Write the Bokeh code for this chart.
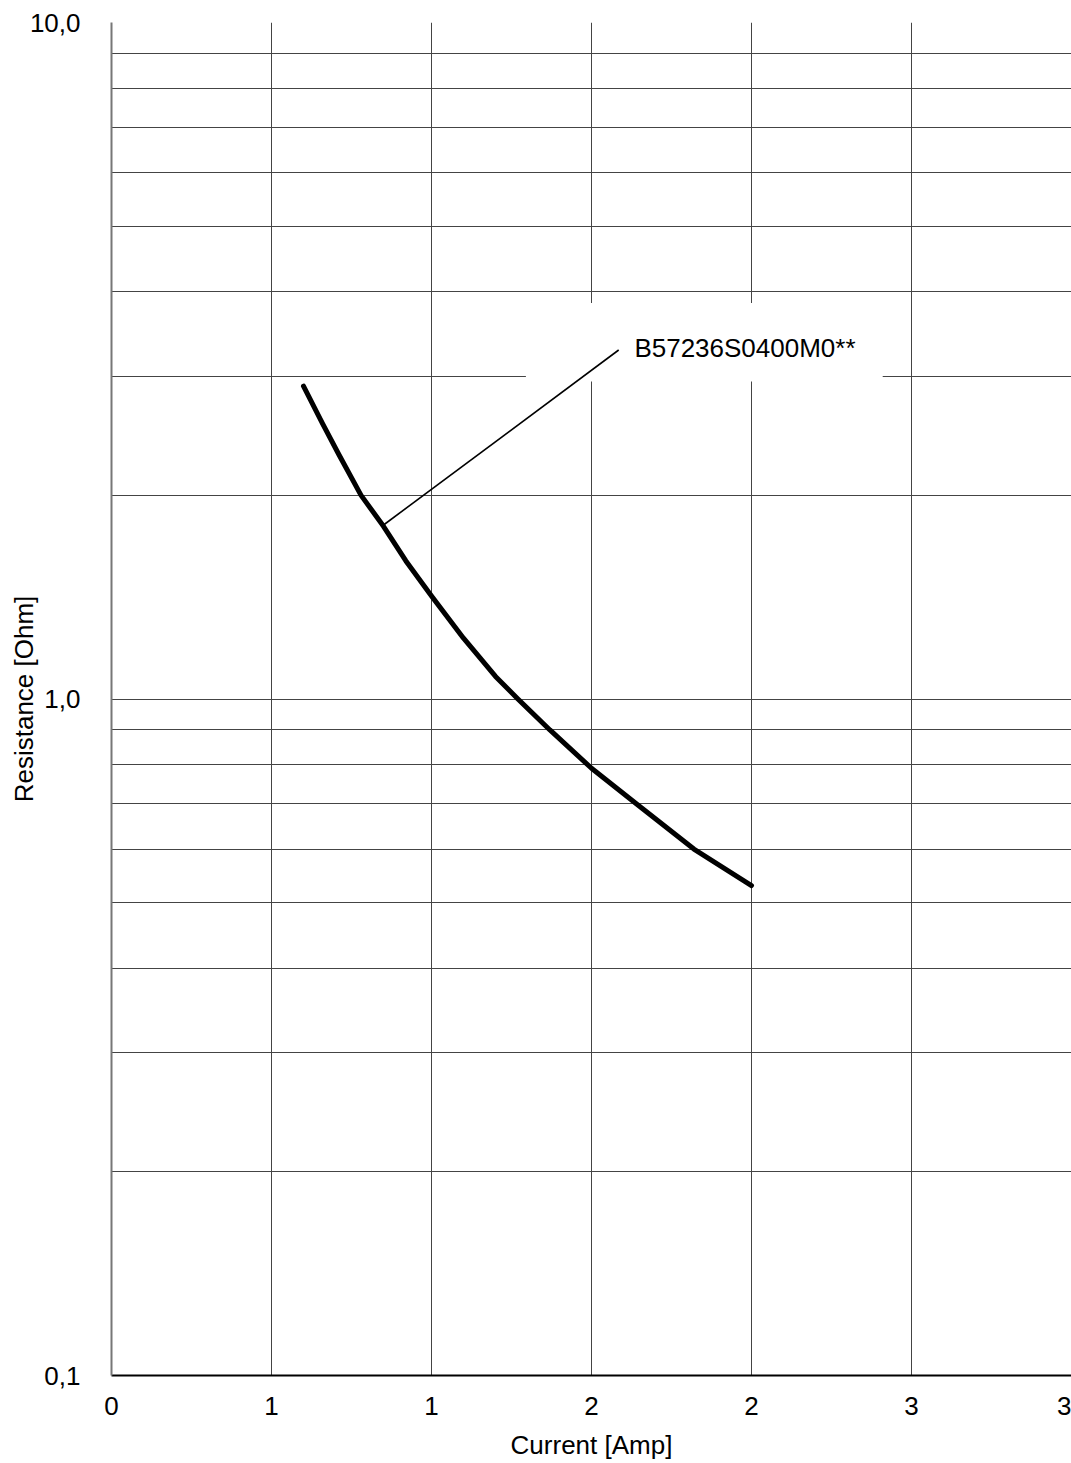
from bokeh.plotting import figure
from bokeh.models import FixedTicker, Range1d
from bokeh.core.properties import value
from bokeh.embed import file_html
from bokeh.resources import INLINE

# data
current = [0.60, 0.66, 0.71, 0.78, 0.85, 0.92, 1.00, 1.10, 1.20, 1.27,
           1.37, 1.50, 1.64, 1.82, 2.00]
resistance = [2.90, 2.55, 2.30, 2.00, 1.80, 1.60, 1.42, 1.23, 1.08, 1.00,
              0.90, 0.79, 0.70, 0.60, 0.53]

x_ticks = [0, 0.5, 1.0, 1.5, 2.0, 2.5, 3.0]
x_tick_labels = ["0", "1", "1", "2", "2", "3", "3"]
y_ticks = [0.1, 1.0, 10.0]
y_tick_labels = ["0,1", "1,0", "10,0"]
y_grid = [0.1, 0.2, 0.3, 0.4, 0.5, 0.6, 0.7, 0.8, 0.9,
          1, 2, 3, 4, 5, 6, 7, 8, 9, 10]

x_title = "Current [Amp]"
y_title = "Resistance [Ohm]"
label_text = ["B57236S0400M0**"]
label_x = [1.634]
label_y = [3.30]
leader_x = [0.848, 1.585]
leader_y = [1.805, 3.28]
box = dict(left=1.295, right=2.41, bottom=2.946, top=3.85)

FONT = "Liberation Sans"

p = figure(width=1071, height=1463, y_axis_type="log",
           x_range=Range1d(0, 3.0), y_range=Range1d(0.1, 10.0),
           output_backend="svg", toolbar_location=None,
           min_border_left=111, min_border_right=0,
           min_border_top=22, min_border_bottom=88)
p.outline_line_color = None
p.background_fill_color = "white"

p.xaxis.ticker = FixedTicker(ticks=x_ticks, minor_ticks=[])
p.xaxis.major_label_overrides = {t: l for t, l in zip(x_ticks, x_tick_labels)}
p.yaxis.ticker = FixedTicker(ticks=y_ticks, minor_ticks=[])
p.yaxis.major_label_overrides = {t: l for t, l in zip(y_ticks, y_tick_labels)}
p.ygrid.ticker = FixedTicker(ticks=y_grid)
p.xgrid.ticker = FixedTicker(ticks=x_ticks)

for g in (p.xgrid, p.ygrid):
    g.grid_line_color = "#444444"
    g.grid_line_width = 1

for ax in (p.xaxis, p.yaxis):
    ax.major_tick_out = 0
    ax.major_tick_in = 0
    ax.minor_tick_out = 0
    ax.minor_tick_in = 0
    ax.major_label_text_font = FONT
    ax.major_label_text_font_size = "26px"
    ax.major_label_text_color = "black"
    ax.axis_label_text_font = FONT
    ax.axis_label_text_font_size = "26px"
    ax.axis_label_text_font_style = "normal"
    ax.axis_label_text_color = "black"

p.xaxis.axis_label = x_title
p.yaxis.axis_label = y_title
p.xaxis.axis_line_color = "black"
p.xaxis.axis_line_width = 2
p.yaxis.axis_line_color = "#777777"
p.yaxis.axis_line_width = 2
p.xaxis.major_label_standoff = 21
p.xaxis.axis_label_standoff = 12
p.xaxis.axis_label_text_line_height = 0.7
p.yaxis.major_label_standoff = 31
p.yaxis.axis_label_standoff = -12

# white box behind the label (interrupts the grid)
p.quad(left=[box["left"]], right=[box["right"]], bottom=[box["bottom"]],
       top=[box["top"]], fill_color="white", line_color=None)

p.line(leader_x, leader_y, line_color="black", line_width=1.6)
p.line(current, resistance, line_color="black", line_width=5,
       line_cap="round", line_join="round")
p.text(x=label_x, y=label_y, text=label_text, text_font=value(FONT),
       text_font_size="26px", text_baseline="middle", text_align="left",
       text_color="black")

open("out.html", "w").write(file_html(p, INLINE))
